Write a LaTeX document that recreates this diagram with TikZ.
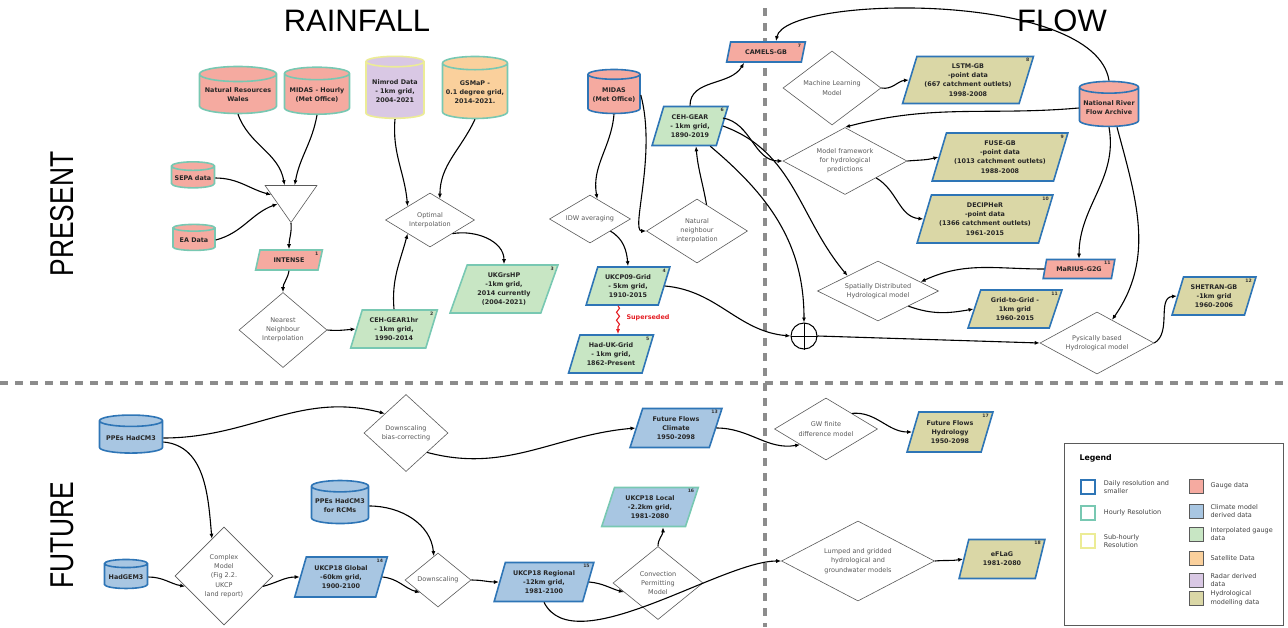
\documentclass[tikz,border=0pt]{standalone}
\usepackage{fontspec}
\setmainfont{DejaVu Sans}
\newfontfamily\headfont{Liberation Sans}
\usepackage{tikz}
\usetikzlibrary{shapes.geometric,arrows.meta,positioning,decorations.pathmorphing}

\definecolor{gaugefill}{RGB}{245,170,160}
\definecolor{climfill}{RGB}{168,198,226}
\definecolor{interpfill}{RGB}{200,230,196}
\definecolor{satfill}{RGB}{250,208,156}
\definecolor{radarfill}{RGB}{217,200,228}
\definecolor{hydrofill}{RGB}{218,215,166}
\definecolor{dailyline}{RGB}{46,117,182}
\definecolor{hourlyline}{RGB}{120,200,178}
\definecolor{subline}{RGB}{236,236,150}
\definecolor{stepgray}{RGB}{90,90,90}
\definecolor{splitgray}{RGB}{140,140,140}
\definecolor{supred}{RGB}{228,30,36}

\newcommand\boxfont{\fontsize{6.4}{9.2}\selectfont\bfseries}
\newcommand\procfont{\fontsize{6.5}{9.2}\selectfont}
\newcommand\keyfont{\fontsize{6.5}{8.8}\selectfont}
\newcommand\numfont{\fontsize{4.6}{5}\selectfont\bfseries}

\tikzset{
  datanode/.style={align=center, font=\boxfont, text=black!85, inner sep=1pt, line width=1.6pt},
  cyl/.style={datanode, cylinder, shape border rotate=90, aspect=0.22, draw},
  para/.style={datanode, trapezium, trapezium left angle=70, trapezium right angle=110,
    trapezium stretches=true, draw},
  proc/.style={diamond, aspect=1.6, draw=stepgray, line width=0.6pt, fill=white,
    text=stepgray, font=\procfont, align=center, inner sep=0pt},
  gauge/.style={fill=gaugefill}, climate/.style={fill=climfill},
  interp/.style={fill=interpfill}, sat/.style={fill=satfill},
  radar/.style={fill=radarfill}, hydro/.style={fill=hydrofill},
  daily/.style={draw=dailyline}, hourly/.style={draw=hourlyline},
  subhourly/.style={draw=subline},
  nr/.style={append after command={node[font=\numfont, text=black!80, anchor=north east,
    inner sep=0pt] at ([xshift=-5pt,yshift=-2.5pt]\tikzlastnode.top right corner) {#1}}},
  head/.style={font=\headfont\fontsize{31}{33}\selectfont},
  sidehead/.style={font=\headfont\fontsize{33}{35}\selectfont, rotate=90},
  split/.style={draw=splitgray, line width=4pt, dash pattern=on 8pt off 7pt},
  keybox/.style={draw, line width=1.5pt, minimum size=14pt, inner sep=0pt, fill=white},
  keyfill/.style={draw=stepgray, line width=0.8pt, minimum size=14pt, inner sep=0pt},
  keytext/.style={font=\keyfont, text=black!75, align=left, anchor=west, inner sep=0pt}
}

\begin{document}
\begin{tikzpicture}[x=1pt,y=-1pt,>={Latex[length=5pt,width=4pt]},
  link/.style={->, line width=1.1pt}]
\useasboundingbox (0,0) rectangle (1288,627);

% separators and headings
\draw[split] (765,8) -- (765,627);
\draw[split] (0,383) -- (1288,383);
\node[head] (rainh) at (357,21) {RAINFALL};
\node[head] (flowh) at (1062,21) {FLOW};
\node[sidehead] (presh) at (62,214) {\scalebox{0.8}[1]{PRESENT}};
\node[sidehead] (futh) at (62,535) {\scalebox{0.8}[1]{FUTURE}};

% present, rainfall
\node[cyl, gauge, hourly, minimum width=77pt, minimum height=47pt] (nrw) at (238,95) {Natural Resources\\Wales};
\node[cyl, gauge, hourly, minimum width=65pt, minimum height=47pt] (midash) at (317,95) {MIDAS - Hourly\\(Met Office)};
\node[cyl, radar, subhourly, minimum width=58pt, minimum height=62pt] (nimrod) at (395,91) {Nimrod Data\\- 1km grid,\\2004-2021};
\node[cyl, sat, hourly, minimum width=65pt, minimum height=62pt] (gsmap) at (475,92) {GSMaP -\\0.1 degree grid,\\2014-2021.};
\node[cyl, gauge, hourly, minimum width=43pt, minimum height=26pt] (sepa) at (193,178) {SEPA data};
\node[cyl, gauge, hourly, minimum width=42pt, minimum height=26pt] (ea) at (194,240) {EA Data};
\node[draw=stepgray, line width=0.6pt, fill=white, isosceles triangle, isosceles triangle apex angle=70,
  shape border rotate=-90, minimum height=37pt, inner sep=0pt] (tri) at (291,199) {};
\node[para, gauge, hourly, minimum width=67pt, minimum height=20pt, nr=1] (intense) at (289,260) {INTENSE};
\node[proc, aspect=1.2, minimum width=88pt, minimum height=75pt] (nn) at (283,330) {Nearest\\Neighbour\\Interpolation};
\node[para, interp, hourly, minimum width=87pt, minimum height=38pt, nr=2] (gear1hr) at (394,329) {CEH-GEAR1hr\\- 1km grid,\\1990-2014};
\node[proc, minimum width=89pt, minimum height=54pt] (oi) at (430,220) {Optimal\\Interpolation};
\node[para, interp, hourly, minimum width=108pt, minimum height=48pt, nr=3] (ukgrshp) at (504,289) {UKGrsHP\\-1km grid,\\2014 currently\\(2004-2021)};

% present, gridded gauge products
\node[cyl, gauge, daily, minimum width=52pt, minimum height=44pt] (midas) at (614,95) {MIDAS\\(Met Office)};
\node[proc, minimum width=81pt, minimum height=48pt] (idw) at (590,219) {IDW averaging};
\node[proc, minimum width=101pt, minimum height=64pt] (natn) at (697,231) {Natural\\neighbour\\interpolation};
\node[para, interp, daily, minimum width=76pt, minimum height=39pt, nr=6] (gear) at (690,126) {CEH-GEAR\\- 1km grid,\\1890-2019};
\node[para, interp, daily, minimum width=84pt, minimum height=38pt, nr=4] (ukcp09) at (628,286) {UKCP09-Grid\\- 5km grid,\\1910-2015};
\node[para, interp, daily, minimum width=85pt, minimum height=38pt, nr=5] (haduk) at (611,354) {Had-UK-Grid\\- 1km grid,\\1862-Present};
\node[font=\boxfont, text=supred] (supl) at (648,318) {Superseded};
\node[para, gauge, daily, minimum width=79pt, minimum height=20pt, nr=7] (camels) at (766,52) {CAMELS-GB};

% present, flow
\node[proc, minimum width=98pt, minimum height=74pt] (ml) at (832,88) {Machine Learning\\Model};
\node[para, hydro, daily, minimum width=131pt, minimum height=47pt, nr=8] (lstm) at (968,80) {LSTM-GB\\-point data\\(667 catchment outlets)\\1998-2008};
\node[proc, minimum width=124pt, minimum height=67pt] (mf) at (845,161) {Model framework\\for hydrological\\predictions};
\node[para, hydro, daily, minimum width=136pt, minimum height=48pt, nr=9] (fuse) at (1000,157) {FUSE-GB\\-point data\\(1013 catchment outlets)\\1988-2008};
\node[para, hydro, daily, minimum width=136pt, minimum height=48pt, nr=10] (decipher) at (985,219) {DECIPHeR\\-point data\\(1366 catchment outlets)\\1961-2015};
\node[cyl, gauge, daily, minimum width=59pt, minimum height=45pt] (nrfa) at (1109,108) {National River\\Flow Archive};
\node[para, gauge, daily, minimum width=72pt, minimum height=19pt, nr=11] (marius) at (1079,269) {MaRIUS-G2G};
\node[proc, aspect=2, minimum width=121pt, minimum height=60pt] (sdhm) at (878,291) {Spatially Distributed\\Hydrological model};
\node[para, hydro, daily, minimum width=94pt, minimum height=38pt, nr=11] (g2g) at (1015,309) {Grid-to-Grid -\\1km grid\\1960-2015};
\node[circle, draw, line width=1pt, minimum size=26pt, inner sep=0pt] (sum) at (804,336) {};
\draw[line width=1pt] (sum.north) -- (sum.south) (sum.west) -- (sum.east);
\node[proc, aspect=2, minimum width=114pt, minimum height=62pt] (pbhm) at (1097,343) {Pysically based\\Hydrological model};
\node[para, hydro, daily, minimum width=84pt, minimum height=38pt, nr=12] (shetran) at (1214,296) {SHETRAN-GB\\-1km grid\\1960-2006};

% future
\node[cyl, climate, daily, minimum width=63pt, minimum height=38pt] (ppes) at (131,438) {PPEs HadCM3};
\node[proc, aspect=1, minimum width=84pt, minimum height=77pt] (dsbc) at (406,433) {Downscaling\\bias-correcting};
\node[para, climate, daily, minimum width=92pt, minimum height=39pt, nr=13] (ffc) at (676,428) {Future Flows\\Climate\\1950-2098};
\node[proc, minimum width=103pt, minimum height=62pt] (gw) at (826,429) {GW finite\\difference model};
\node[para, hydro, daily, minimum width=86pt, minimum height=40pt, nr=17] (ffh) at (950,432) {Future Flows\\Hydrology\\1950-2098};
\node[cyl, climate, daily, minimum width=57pt, minimum height=43pt] (rcm) at (340,506) {PPEs HadCM3\\for RCMs};
\node[cyl, climate, daily, minimum width=43pt, minimum height=29pt] (hadgem) at (126,577) {HadGEM3};
\node[proc, aspect=1, minimum width=98pt, minimum height=98pt] (cm) at (224,576) {Complex\\Model\\(Fig 2.2.\\UKCP\\land report)};
\node[para, climate, daily, minimum width=93pt, minimum height=40pt, nr=14] (glob) at (341,577) {UKCP18 Global\\-60km grid,\\1900-2100};
\node[proc, aspect=1.2, minimum width=66pt, minimum height=54pt] (ds) at (438,580) {Downscaling};
\node[para, climate, daily, minimum width=100pt, minimum height=39pt, nr=15] (reg) at (544,582) {UKCP18 Regional\\-12km grid,\\1981-2100};
\node[proc, aspect=1.2, minimum width=90pt, minimum height=73pt] (cpm) at (658,583) {Convection\\Permitting\\Model};
\node[para, climate, hourly, minimum width=97pt, minimum height=39pt, nr=16] (local) at (650,507) {UKCP18 Local\\-2.2km grid,\\1981-2080};
\node[proc, aspect=2, minimum width=153pt, minimum height=80pt] (lump) at (858,561) {Lumped and gridded\\hydrological and\\groundwater models};
\node[para, hydro, daily, minimum width=86pt, minimum height=39pt, nr=18] (eflag) at (1002,559) {eFLaG\\1981-2080};

% connectors
\path[link]
  (nrw.south) edge[out=-70,in=100] (tri.115)
  (midash.south) edge[out=-100,in=80] (tri.75)
  (sepa.east) edge[out=0,in=165] (tri.168)
  (ea.east) edge[out=15,in=200] (tri.200)
  (tri.apex) edge[out=-85,in=90] (intense.north)
  (intense.south) edge[out=-100,in=90] (nn.north)
  (nn.east) edge[out=-5,in=185] (gear1hr.west)
  (gear1hr.north) edge[out=95,in=-105] (oi.south west)
  (nimrod.south) edge[out=-95,in=95] (oi.north west)
  (gsmap.south) edge[out=-115,in=90] (oi.65)
  (oi.south east) edge[out=10,in=90] (ukgrshp.north)
  (midas.south) edge[out=-95,in=100] (idw.70)
  (idw.south east) edge[out=-30,in=95] (ukcp09.north)
  (natn.70) edge[out=100,in=-85] ([xshift=6pt]gear.south)
  (gear.north) edge[out=90,in=-120] ([xshift=-22pt]camels.south)
  (ukcp09.east) edge[out=-5,in=175] (sum.west)
  ([yshift=8pt]gear.east) edge[out=-10,in=180] (mf.west)
  (gear.east) edge[out=-20,in=130] (sdhm.north west)
  (gear.south east) edge[out=-40,in=90] (sum.north)
  (nrfa.west) edge[out=185,in=15] (mf.north)
  (nrfa.south) edge[out=-80,in=90] (marius.north)
  ([xshift=8pt]nrfa.south) edge[out=-75,in=55] (pbhm.57)
  (marius.west) edge[out=180,in=25] (sdhm.12)
  (sdhm.south east) edge[out=-20,in=190] (g2g.west)
  (sum.east) edge (pbhm.west)
  (pbhm.east) edge[out=30,in=185] (shetran.west)
  (ml.east) edge[out=-10,in=185] (lstm.west)
  (mf.east) edge[out=5,in=195] (fuse.west)
  (mf.south east) edge[out=-30,in=175] (decipher.west)
  (ppes.east) edge[out=0,in=165] (dsbc.north west)
  (dsbc.south east) edge[out=-15,in=185] (ffc.west)
  (ffc.east) edge[out=0,in=190] (gw.south west)
  (gw.north east) edge[out=5,in=180] (ffh.west)
  ([yshift=-4pt]ppes.east) edge[out=-5,in=95] (cm.108)
  (hadgem.east) edge[out=0,in=170] (cm.195)
  (cm.345) edge[out=15,in=180] (glob.west)
  (rcm.east) edge[out=0,in=95] (ds.100)
  (glob.east) edge[out=-5,in=165] (ds.215)
  (ds.east) edge[out=0,in=180] (reg.west)
  (reg.east) edge[out=-5,in=165] (cpm.195)
  (cpm.north) edge[out=90,in=-90] ([xshift=13pt]local.south)
  (lump.east) edge[out=5,in=190] (eflag.west);
\draw[link] (midas.east) .. controls +(16,60) and +(-16,0) .. (natn.west);
\draw[link] (nrfa.north) .. controls (1095,-10) and (785,-5) .. ([xshift=10pt]camels.north);
\draw[link] (reg.south) .. controls +(30,60) and +(-60,0) .. (lump.west);
\draw[link, supred, decorate, decoration={snake, amplitude=1.5pt, segment length=8pt, post length=5pt}]
  ([xshift=-10pt]ukcp09.south) -- ([xshift=7pt]haduk.north);

% legend
\node[draw=stepgray, line width=1pt, minimum width=219pt, minimum height=182pt] (legend) at (1174,534) {};
\node[font=\bfseries\fontsize{7.8}{9}\selectfont, anchor=west] (legt) at (1076,458) {Legend};
\node[keybox, draw=dailyline] (kd) at (1088,487) {};
\node[keybox, draw=hourlyline] (kh) at (1088,513) {};
\node[keybox, draw=subline] (ks) at (1088,541) {};
\node[keytext, right=8pt of kd] {Daily resolution and\\smaller};
\node[keytext, right=8pt of kh] {Hourly Resolution};
\node[keytext, right=8pt of ks] {Sub-hourly\\Resolution};
\node[keyfill, fill=gaugefill] (kg) at (1196,486) {};
\node[keyfill, fill=climfill] (kc) at (1196,511) {};
\node[keyfill, fill=interpfill] (ki) at (1196,534) {};
\node[keyfill, fill=satfill] (ks2) at (1196,558) {};
\node[keyfill, fill=radarfill] (kr) at (1196,580) {};
\node[keyfill, fill=hydrofill] (ky) at (1196,598) {};
\node[keytext, right=7pt of kg] {Gauge data};
\node[keytext, right=7pt of kc] {Climate model\\derived data};
\node[keytext, right=7pt of ki] {Interpolated gauge\\data};
\node[keytext, right=7pt of ks2] {Satellite Data};
\node[keytext, right=7pt of kr] {Radar derived\\data};
\node[keytext, right=7pt of ky] {Hydrological\\modelling data};
\end{tikzpicture}
\end{document}
